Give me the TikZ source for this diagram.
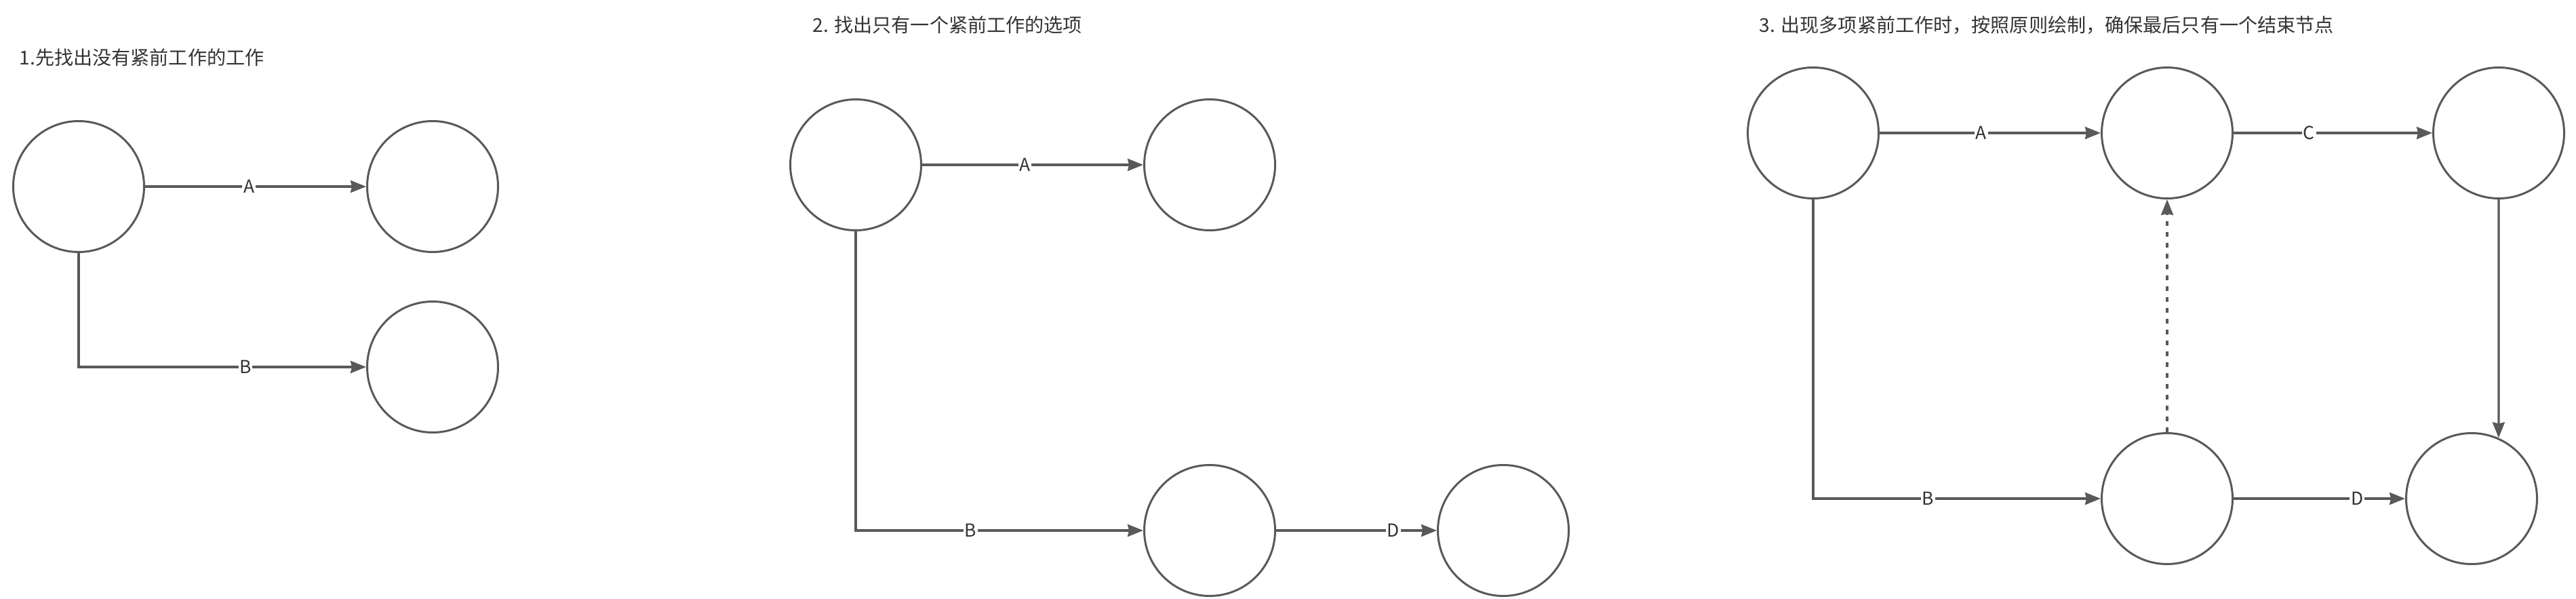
\documentclass[tikz,border=0pt]{standalone}
\usepackage{fontspec}
\setmainfont{Noto Sans CJK SC}
\usepackage{xcolor}
\usepackage{tikz}
\usetikzlibrary{arrows.meta}

\definecolor{linegray}{HTML}{595959}
\definecolor{textgray}{HTML}{333333}

\begin{document}
\begin{tikzpicture}
        \tikzset{circle style/.style={draw=linegray, line width=0.03cm, circle, minimum size=1.93cm, inner sep=0pt}}
        \tikzset{line style/.style={line width=0.033cm, color=linegray, -{Stealth[length=0.23cm, width=0.18cm, inset=0.02cm]}}}
        \tikzset{title style/.style={anchor=west, text=textgray, inner sep=0pt, font=\fontsize{8}{10}\selectfont}}
        \tikzset{label style/.style={fill=white, text=textgray, inner sep=0.5pt, font=\fontsize{7.5}{9}\selectfont}}

        \useasboundingbox (0,0) rectangle (37.99,8.82);

        % 1
        \node[title style] (t1) at (0.28, 7.97) {1.先找出没有紧前工作的工作};
        \node[circle style] (p1a) at (1.16, 6.07) {};
        \node[circle style] (p1b) at (6.38, 6.07) {};
        \node[circle style] (p1c) at (6.38, 3.41) {};
        \draw[line style] (p1a) -- node[label style, pos=0.47] {A} (p1b);
        \draw[line style] (p1a.south) |- node[label style, pos=0.79] {B} (p1c.west);

        % 2
        \node[title style] (t2) at (11.98, 8.45) {2. 找出只有一个紧前工作的选项};
        \node[circle style] (p2a) at (12.62, 6.39) {};
        \node[circle style] (p2b) at (17.84, 6.39) {};
        \node[circle style] (p2c) at (17.84, 1.00) {};
        \node[circle style] (p2d) at (22.17, 1.00) {};
        \draw[line style] (p2a) -- node[label style, pos=0.465] {A} (p2b);
        \draw[line style] (p2a.south) |- node[label style, pos=0.70] {B} (p2c.west);
        \draw[line style] (p2c) -- node[label style, pos=0.73] {D} (p2d);

        % 3
        \node[title style] (t3) at (25.94, 8.45) {3. 出现多项紧前工作时，按照原则绘制，确保最后只有一个结束节点};
        \node[circle style] (p3a) at (26.74, 6.86) {};
        \node[circle style] (p3b) at (31.96, 6.86) {};
        \node[circle style] (p3c) at (36.85, 6.86) {};
        \node[circle style] (p3d) at (31.96, 1.47) {};
        \node[circle style] (p3e) at (36.45, 1.47) {};
        \draw[line style] (p3a) -- node[label style, pos=0.46] {A} (p3b);
        \draw[line style] (p3b) -- node[label style, pos=0.38] {C} (p3c);
        \draw[line style] (p3c.south) -- (p3e.66);
        \draw[line style, dash pattern=on 0.07cm off 0.09cm] (p3d) -- (p3b);
        \draw[line style] (p3a.south) |- node[label style, pos=0.70] {B} (p3d.west);
        \draw[line style] (p3d) -- node[label style, pos=0.72] {D} (p3e);
    \end{tikzpicture}
\end{document}
